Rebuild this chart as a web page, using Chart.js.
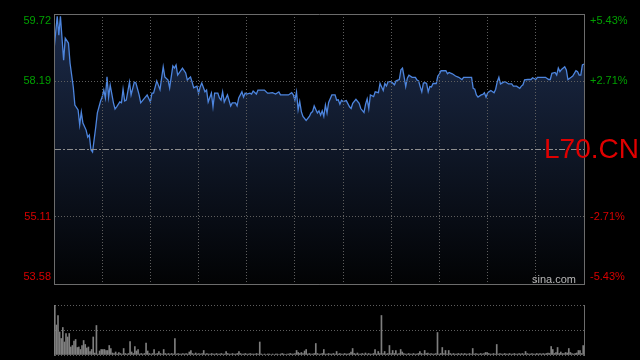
<!DOCTYPE html>
<html>
<head>
<meta charset="utf-8">
<script src="https://cdn.jsdelivr.net/npm/chart.js@4.4.0/dist/chart.umd.min.js"></script>
<style>
  html, body { margin: 0; padding: 0; background: #000; width: 640px; height: 360px; overflow: hidden; }
  #wrap { position: relative; width: 640px; height: 360px; }
  canvas { position: absolute; left: 0; }
  #price { top: 0; }
  #volume { top: 290px; }
  .code { position: absolute; left: 544px; top: 135px; font: 28px "Liberation Sans", Arial, sans-serif; line-height: 28px; color: #e00000; }
  .brand { position: absolute; left: 532px; top: 274px; font: 11px "Liberation Sans", Arial, sans-serif; line-height: 11px; color: #b8b8b8; }
</style>
</head>
<body>
<div id="wrap">
  <canvas id="price" width="640" height="290" style="width:640px;height:290px"></canvas>
  <canvas id="volume" width="640" height="70" style="width:640px;height:70px"></canvas>
  <div class="brand">sina.com</div>
  <div class="code">L70.CN</div>
</div>
<script>
// price axis (left) and change axis (right)
const priceMin = 53.58, priceMax = 59.72, prevClose = 56.65;
const priceTicks = [53.58, 55.11, 56.65, 58.19, 59.72];
const priceLabels = ['53.58', '55.11', '', '58.19', '59.72'];
const pctLabels = ['-5.43%', '-2.71%', '', '+2.71%', '+5.43%'];

// trading minutes 0..330 (9:30-12:00, 13:00-16:00), grid every 30 min
const timeTicks = [0, 30, 60, 90, 120, 150, 180, 210, 240, 270, 300, 330];

const minutes = [
  0, 2, 3, 4, 6, 7, 9, 10, 12, 13, 15, 16, 17, 18, 20, 21, 22, 23, 24, 26,
  27, 29, 30, 31, 32, 33, 34, 35, 37, 38, 39, 41, 42, 43, 44, 45, 47, 48, 50, 51,
  53, 54, 56, 58, 60, 61, 62, 64, 66, 68, 69, 71, 72, 74, 75, 76, 77, 80, 82, 83,
  85, 86, 87, 89, 90, 91, 92, 94, 95, 96, 98, 99, 100, 102, 103, 104, 105, 106, 108, 110,
  111, 113, 114, 115, 117, 118, 119, 120, 122, 123, 124, 126, 127, 128, 131, 133, 134, 136, 138, 140,
  141, 144, 146, 148, 149, 150, 151, 152, 153, 154, 155, 157, 159, 160, 161, 162, 164, 165, 166, 167,
  168, 169, 170, 171, 173, 175, 176, 177, 178, 179, 180, 182, 184, 185, 186, 188, 190, 191, 193, 194,
  195, 196, 197, 199, 200, 202, 203, 205, 206, 207, 208, 210, 212, 213, 215, 216, 217, 218, 219, 220,
  221, 223, 225, 226, 227, 228, 229, 230, 231, 232, 233, 234, 235, 236, 238, 239, 240, 241, 244, 245,
  246, 248, 250, 252, 254, 255, 260, 261, 262, 263, 264, 266, 267, 268, 269, 270, 272, 274, 275, 276,
  277, 278, 280, 281, 283, 285, 286, 288, 290, 291, 292, 293, 295, 297, 298, 300, 301, 306, 308, 309,
  310, 312, 313, 314, 315, 316, 318, 319, 320, 322, 323, 325, 326, 327, 328, 329, 330
];

const prices = [
  58.90, 59.67, 59.24, 59.67, 58.67, 59.17, 59.06, 58.60, 58.06, 57.65, 57.54, 57.20, 57.49, 57.24, 57.08, 56.92, 56.97, 56.63, 56.58, 57.15,
  57.47, 57.74, 57.83, 57.99, 57.81, 58.29, 57.83, 58.10, 57.70, 57.56, 57.61, 57.72, 57.70, 58.01, 57.74, 57.76, 58.17, 57.88, 58.17, 58.15,
  57.88, 57.70, 57.79, 57.88, 57.72, 57.92, 57.92, 58.20, 58.00, 58.52, 58.29, 58.22, 58.04, 58.54, 58.49, 58.56, 58.33, 58.49, 58.38, 58.22,
  58.29, 58.17, 58.04, 58.08, 57.92, 58.06, 58.15, 57.95, 57.99, 57.72, 57.92, 57.61, 57.92, 57.92, 57.81, 57.76, 57.95, 57.72, 57.88, 57.63,
  57.70, 57.70, 57.63, 57.81, 57.95, 57.83, 57.92, 57.90, 57.92, 57.90, 57.97, 57.90, 57.99, 57.99, 57.99, 57.92, 57.92, 57.93, 57.90, 57.95,
  57.88, 57.88, 57.88, 57.93, 57.88, 57.76, 57.95, 57.54, 57.73, 57.50, 57.39, 57.30, 57.39, 57.47, 57.50, 57.63, 57.47, 57.52, 57.42, 57.52,
  57.39, 57.65, 57.47, 57.71, 57.88, 57.88, 57.76, 57.77, 57.67, 57.76, 57.73, 57.75, 57.61, 57.57, 57.69, 57.78, 57.69, 57.57, 57.48, 57.67,
  57.79, 57.57, 57.88, 57.84, 57.95, 57.93, 58.14, 57.98, 58.14, 58.08, 58.18, 58.18, 58.11, 58.20, 58.23, 58.45, 58.49, 58.29, 58.07, 58.26,
  58.33, 58.28, 58.28, 58.22, 58.20, 58.07, 57.95, 58.15, 58.16, 58.14, 57.95, 58.07, 58.06, 58.14, 58.14, 58.31, 58.36, 58.43, 58.43, 58.36,
  58.39, 58.36, 58.31, 58.28, 58.23, 58.28, 58.28, 58.03, 58.01, 57.88, 57.83, 57.88, 57.89, 57.93, 57.83, 57.93, 57.98, 57.93, 58.01, 58.18,
  58.28, 58.13, 58.17, 58.18, 58.13, 58.13, 58.08, 58.08, 58.03, 58.08, 58.11, 58.22, 58.23, 58.23, 58.27, 58.23, 58.28, 58.28, 58.23, 58.23,
  58.37, 58.39, 58.33, 58.49, 58.41, 58.46, 58.52, 58.45, 58.23, 58.28, 58.31, 58.43, 58.41, 58.33, 58.33, 58.56, 58.58
];

// volume per minute, one bar each (scale top = 100)
const volMax = 100;
const volTicks = [0, 50, 100];
const volumes = [
  100, 60, 79, 46, 33, 55, 26, 43, 36, 43, 16, 19, 28, 31, 15, 16, 11, 19, 29, 21, 14, 16, 7, 11, 36, 4, 59, 2, 8, 11,
  11, 11, 9, 9, 19, 13, 4, 3, 6, 2, 5, 3, 2, 13, 3, 2, 3, 27, 6, 3, 17, 8, 11, 2, 3, 2, 3, 24, 8, 3,
  2, 3, 11, 2, 3, 7, 3, 2, 11, 3, 2, 3, 2, 3, 2, 33, 2, 3, 2, 2, 3, 2, 3, 2, 6, 9, 3, 2, 4, 2,
  3, 2, 3, 9, 2, 3, 2, 2, 3, 2, 2, 3, 2, 2, 3, 2, 2, 7, 3, 2, 2, 3, 2, 2, 3, 7, 3, 2, 2, 3,
  2, 2, 3, 2, 2, 2, 3, 2, 26, 2, 1, 2, 1, 2, 2, 1, 2, 1, 2, 2, 1, 2, 3, 2, 1, 2, 2, 3, 2, 2,
  3, 9, 5, 3, 5, 3, 8, 11, 2, 3, 2, 2, 3, 23, 3, 2, 2, 3, 11, 2, 2, 3, 2, 2, 3, 2, 7, 2, 3, 2,
  2, 3, 2, 2, 3, 6, 13, 3, 2, 4, 2, 2, 3, 2, 4, 2, 3, 2, 2, 3, 11, 2, 7, 3, 79, 3, 7, 2, 3, 19,
  3, 9, 3, 9, 2, 3, 11, 6, 3, 2, 2, 3, 2, 2, 3, 2, 2, 3, 7, 3, 2, 9, 3, 4, 2, 3, 2, 2, 3, 45,
  2, 3, 15, 3, 9, 2, 9, 3, 2, 3, 2, 2, 3, 2, 3, 2, 3, 2, 2, 3, 2, 13, 2, 3, 2, 2, 3, 2, 3, 5,
  5, 3, 2, 2, 3, 2, 21, 2, 3, 2, 2, 3, 2, 2, 3, 2, 2, 3, 2, 2, 3, 2, 3, 2, 7, 3, 2, 2, 3, 2,
  2, 3, 2, 3, 2, 3, 2, 3, 4, 3, 17, 11, 3, 5, 15, 3, 6, 3, 3, 5, 4, 13, 5, 3, 2, 3, 4, 9, 9, 3,
  19
];

const green = '#00a000', red = '#d80000';
const gridGray = '#5e5e5e', frameGray = '#6c6c6c', midGray = '#8e8e8e';

Chart.defaults.font.family = '"Liberation Sans", Arial, sans-serif';
Chart.defaults.font.size = 11;

const lastTick = priceTicks.length - 1;
const tickColor = c => (c.tick && c.tick.value >= prevClose) ? green : red;
const edgeLabel = (labels, i) => {
  if (i === 0) return [labels[i], ''];
  if (i === lastTick) return ['', labels[i]];
  return labels[i];
};

// price chart
new Chart(document.getElementById('price'), {
  type: 'line',
  data: {
    datasets: [{
      data: minutes.map((m, i) => ({ x: m, y: prices[i] })),
      borderColor: '#4d85de',
      borderWidth: 1.3,
      pointRadius: 0,
      tension: 0,
      fill: 'start',
      backgroundColor: ctx => {
        const area = ctx.chart.chartArea;
        if (!area) return 'rgba(0,0,0,0)';
        const g = ctx.chart.ctx.createLinearGradient(0, area.top, 0, area.bottom);
        g.addColorStop(0, '#1c2b4a');
        g.addColorStop(1, '#020304');
        return g;
      },
      yAxisID: 'y'
    }]
  },
  options: {
    responsive: false,
    animation: false,
    layout: { padding: { top: 14, left: 0, right: 0, bottom: 0 } },
    plugins: { legend: { display: false }, tooltip: { enabled: false } },
    scales: {
      x: {
        type: 'linear', min: 0, max: 330,
        afterBuildTicks: s => { s.ticks = timeTicks.map(v => ({ value: v })); },
        afterFit: s => { s.height = 6; s.paddingLeft = 0; s.paddingRight = 0; },
        ticks: { display: false },
        grid: {
          z: 1,
          drawTicks: false,
          color: c => (c.index === 0 || c.index === timeTicks.length - 1) ? 'rgba(0,0,0,0)' : gridGray
        },
        border: { color: frameGray, dash: [1, 2], z: 1 }
      },
      y: {
        min: priceMin, max: priceMax, position: 'left',
        afterBuildTicks: s => { s.ticks = priceTicks.map(v => ({ value: v })); },
        afterFit: s => { s.width = 54; s.paddingTop = 0; s.paddingBottom = 0; },
        ticks: { padding: 3, color: tickColor, callback: (v, i) => edgeLabel(priceLabels, i) },
        grid: {
          z: 1,
          drawTicks: false,
          color: c => (c.index === 0 || c.index === lastTick) ? frameGray : (c.index === 2 ? midGray : gridGray)
        },
        border: {
          z: 1,
          color: frameGray,
          dash: c => (c.index === 0 || c.index === lastTick) ? [] : (c.index === 2 ? [6, 2, 2, 2] : [1, 2])
        }
      },
      y2: {
        min: priceMin, max: priceMax, position: 'right',
        afterBuildTicks: s => { s.ticks = priceTicks.map(v => ({ value: v })); },
        afterFit: s => { s.width = 56; s.paddingTop = 0; s.paddingBottom = 0; },
        ticks: { padding: 6, color: tickColor, callback: (v, i) => edgeLabel(pctLabels, i) },
        grid: { display: false, drawTicks: false },
        border: { color: frameGray, z: 1 }
      }
    }
  }
});

// volume chart
new Chart(document.getElementById('volume'), {
  type: 'bar',
  data: {
    labels: volumes.map((v, i) => i),
    datasets: [{
      data: volumes,
      backgroundColor: '#7e7e7e',
      barThickness: 1,
      yAxisID: 'y'
    }]
  },
  options: {
    responsive: false,
    animation: false,
    layout: { padding: { top: 15, left: 0, right: 0, bottom: 0 } },
    plugins: { legend: { display: false }, tooltip: { enabled: false } },
    scales: {
      x: {
        ticks: { display: false },
        grid: { display: false, drawTicks: false },
        border: { display: false },
        afterFit: s => { s.height = 5; s.paddingLeft = 0; s.paddingRight = 0; }
      },
      y: {
        min: 0, max: volMax, position: 'left',
        afterBuildTicks: s => { s.ticks = volTicks.map(v => ({ value: v })); },
        afterFit: s => { s.width = 54; s.paddingTop = 0; s.paddingBottom = 0; },
        ticks: { display: false },
        grid: { drawTicks: false, color: gridGray },
        border: { color: frameGray, dash: [1, 2] }
      },
      yr: {
        position: 'right',
        ticks: { display: false },
        grid: { display: false, drawTicks: false },
        border: { color: frameGray },
        afterFit: s => { s.width = 56; s.paddingTop = 0; s.paddingBottom = 0; }
      }
    }
  }
});
</script>
</body>
</html>
